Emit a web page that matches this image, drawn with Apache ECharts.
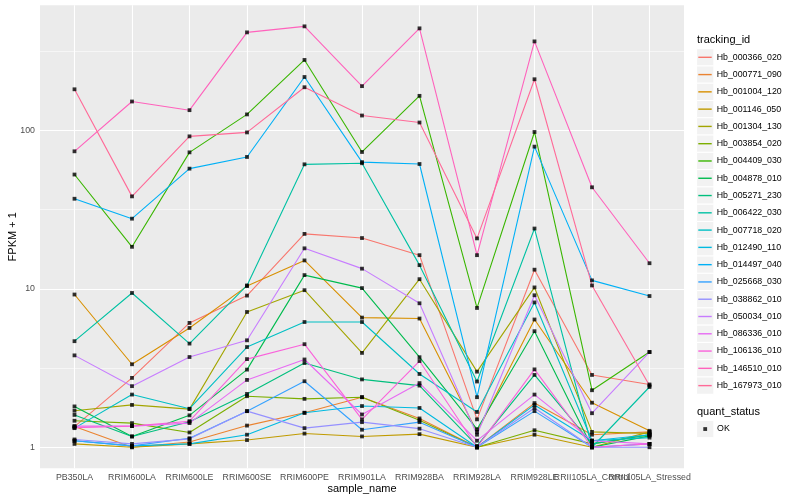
<!DOCTYPE html>
<html><head><meta charset="utf-8">
<script src="https://cdn.jsdelivr.net/npm/echarts@6/dist/echarts.min.js"></script>
<style>html,body{margin:0;padding:0;background:#fff}#c{width:800px;height:500px}</style>
</head><body><div id="c"></div>
<script>
const categories = ['PB350LA','RRIM600LA','RRIM600LE','RRIM600SE','RRIM600PE','RRIM901LA','RRIM928BA','RRIM928LA','RRIM928LE','RRII105LA_Control','RRII105LA_Stressed'];
const trackingIds = ['Hb_000366_020','Hb_000771_090','Hb_001004_120','Hb_001146_050','Hb_001304_130','Hb_003854_020','Hb_004409_030','Hb_004878_010','Hb_005271_230','Hb_006422_030','Hb_007718_020','Hb_012490_110','Hb_014497_040','Hb_025668_030','Hb_038862_010','Hb_050034_010','Hb_086336_010','Hb_106136_010','Hb_146510_010','Hb_167973_010'];

// FPKM + 1 values, one array per tracking_id, in category order
const Hb_000366_020 = [1.35, 2.74, 6.09, 9.06, 22.2, 20.9, 16.3, 1.5, 13.2, 2.86, 2.49];
const Hb_000771_090 = [1.35, 1.0, 1.08, 1.37, 1.65, 2.07, 1.52, 1.0, 1.9, 1.2, 1.25];
const Hb_001004_120 = [9.2, 3.34, 5.66, 10.4, 15.1, 6.58, 6.49, 1.25, 6.4, 1.91, 1.27];
const Hb_001146_050 = [1.05, 1.0, 1.05, 1.11, 1.22, 1.17, 1.21, 1.0, 1.2, 1.0, 1.25];
const Hb_001304_130 = [1.7, 1.85, 1.74, 7.14, 9.8, 3.94, 11.5, 3.0, 10.2, 1.25, 1.22];
const Hb_003854_020 = [1.47, 1.42, 1.24, 2.1, 2.02, 2.07, 1.48, 1.0, 1.28, 1.05, 1.2];
const Hb_004409_030 = [52.6, 18.4, 72.6, 126, 278, 73, 165, 7.57, 97.6, 2.29, 3.99];
const Hb_004878_010 = [1.81, 1.17, 1.59, 3.09, 12.2, 10.1, 3.7, 1.3, 5.4, 1.0, 1.18];
const Hb_005271_230 = [1.6, 1.17, 1.45, 2.17, 3.4, 2.68, 2.45, 1.02, 2.86, 1.05, 1.2];
const Hb_006422_030 = [4.67, 9.41, 4.51, 10.5, 61, 62, 14.1, 2.6, 24, 1.0, 2.4];
const Hb_007718_020 = [1.32, 2.15, 1.75, 4.29, 6.17, 6.17, 2.9, 1.67, 8.2, 1.1, 1.15];
const Hb_012490_110 = [1.1, 1.02, 1.05, 1.2, 1.65, 1.82, 1.77, 1.0, 1.85, 1.1, 1.2];
const Hb_014497_040 = [37, 27.7, 57.3, 67.9, 217, 63, 61.3, 2.07, 78.9, 11.3, 9.0];
const Hb_025668_030 = [1.1, 1.02, 1.14, 1.69, 2.61, 1.29, 1.44, 1.0, 1.69, 1.0, 1.05];
const Hb_038862_010 = [1.12, 1.05, 1.13, 1.69, 1.32, 1.44, 1.31, 1.0, 1.77, 1.0, 1.0];
const Hb_050034_010 = [3.8, 2.43, 3.71, 4.73, 18.0, 13.4, 8.1, 1.2, 9.1, 1.64, 3.99];
const Hb_086336_010 = [1.36, 1.36, 1.42, 2.66, 3.58, 1.61, 2.54, 1.1, 2.15, 1.1, 1.05];
const Hb_106136_010 = [1.33, 1.36, 1.46, 3.6, 4.47, 1.5, 3.5, 1.0, 3.1, 1.0, 1.05];
const Hb_146510_010 = [73.7, 152, 134, 415, 453, 190, 440, 16.3, 364, 43.7, 14.5];
const Hb_167973_010 = [181.5, 38.3, 91.6, 97, 187, 124, 112, 20.8, 210, 10.5, 2.45];

const seriesValues = [Hb_000366_020, Hb_000771_090, Hb_001004_120, Hb_001146_050, Hb_001304_130, Hb_003854_020, Hb_004409_030, Hb_004878_010, Hb_005271_230, Hb_006422_030, Hb_007718_020, Hb_012490_110, Hb_014497_040, Hb_025668_030, Hb_038862_010, Hb_050034_010, Hb_086336_010, Hb_106136_010, Hb_146510_010, Hb_167973_010];
const yTickLabels = [1, 10, 100];
const quantStatus = ['OK'];

const palette = ['#F8766D','#EA8331','#D89000','#C09B00','#A3A500','#7CAE00','#39B600','#00BB4E','#00BF7D','#00C1A3','#00BFC4','#00BAE0','#00B0F6','#35A2FF','#9590FF','#C77CFF','#E76BF3','#FA62DB','#FF62BC','#FF6A98'];

const FONT = '"Liberation Sans", Arial, Helvetica, sans-serif';
const logs = seriesValues.flat().map(v => Math.log10(v));
const lo = Math.min(...logs), hi = Math.max(...logs);
const pad = (hi - lo) * 0.05;
const yMin = lo - pad, yMax = hi + pad;

const majorY = yTickLabels.map(v => Math.log10(v));
const minorY = majorY.map(v => v + 0.5).filter(v => v < yMax);
const xIdx = categories.map((_, i) => i);
// labels of neighbouring categories overlap, so they are split over two overlaid axes
const xIdxA = xIdx.filter(i => i !== 9);
const xIdxB = [9];

const gridLines = [].concat(
  majorY.map(v => ({ yAxis: v, lineStyle: { width: 1.1 } })),
  minorY.map(v => ({ yAxis: v, lineStyle: { width: 0.55 } })),
  xIdx.map(i => ({ xAxis: i, lineStyle: { width: 1.1 } }))
);

const lineSeries = trackingIds.map((id, k) => ({
  name: id, type: 'line', z: 2, symbol: 'none', showSymbol: false, silent: true,
  data: seriesValues[k].map((v, i) => [i, Math.log10(v)]),
  lineStyle: { width: 1.1, color: palette[k] },
  itemStyle: { color: palette[k] },
  emphasis: { disabled: true }
}));

const pointData = [];
seriesValues.forEach(arr => arr.forEach((v, i) => pointData.push([i, Math.log10(v)])));

const KEY = 17.28, LEG_TOP = 48.66, OK_TOP = 420.4;
const keyRects = trackingIds.map((_, i) => ({
  type: 'rect', silent: true, z: 0,
  shape: { x: 696.6, y: LEG_TOP + i * KEY, width: KEY, height: KEY },
  style: { fill: '#F2F2F2', stroke: '#FFFFFF', lineWidth: 1 }
}));
keyRects.push({
  type: 'rect', silent: true, z: 0,
  shape: { x: 696.6, y: OK_TOP, width: KEY, height: KEY },
  style: { fill: '#F2F2F2', stroke: '#FFFFFF', lineWidth: 1 }
});

const xLabelStyle = { fontSize: 8.8, color: '#4D4D4D', margin: 4.5, fontFamily: FONT, hideOverlap: false,
                      formatter: v => categories[Math.round(v)] };

const chart = echarts.init(document.getElementById('c'), null, { renderer: 'canvas' });
chart.setOption({
  animation: false,
  backgroundColor: '#FFFFFF',
  textStyle: { fontFamily: FONT },
  grid: { left: 40, right: 116, top: 5.3, bottom: 31.7, show: true, backgroundColor: '#EBEBEB', borderWidth: 0,
          containLabel: false, outerBoundsMode: 'none' },
  title: [
    { text: 'tracking_id', left: 697, top: 34.5, padding: 0, textStyle: { fontSize: 11, fontWeight: 'normal', color: '#000', fontFamily: FONT } },
    { text: 'quant_status', left: 697, top: 406.3, padding: 0, textStyle: { fontSize: 11, fontWeight: 'normal', color: '#000', fontFamily: FONT } }
  ],
  graphic: keyRects,
  legend: [
    { orient: 'vertical', left: 698.3, top: LEG_TOP, padding: 0, itemGap: 0, itemWidth: 13.4, itemHeight: 1.4,
      icon: 'rect', selectedMode: false, data: trackingIds, itemStyle: { borderWidth: 0 },
      textStyle: { fontSize: 8.8, color: '#000', fontFamily: FONT, lineHeight: KEY } },
    { orient: 'vertical', left: 703.3, top: OK_TOP, padding: 0, itemGap: 0, itemWidth: 3.8, itemHeight: 3.8,
      icon: 'rect', selectedMode: false, data: quantStatus, itemStyle: { borderWidth: 0 },
      textStyle: { fontSize: 8.8, color: '#000', fontFamily: FONT, lineHeight: KEY, padding: [0, 0, 0, 5] } }
  ],
  xAxis: [
    {
      type: 'value', min: -0.6, max: 10.6, position: 'bottom', offset: 0,
      name: 'sample_name', nameLocation: 'middle', nameGap: 15, nameMoveOverlap: false,
      nameTextStyle: { fontSize: 11, color: '#000', fontFamily: FONT },
      axisLine: { show: false },
      splitLine: { show: false },
      axisTick: { show: true, customValues: xIdx, length: 2.75, lineStyle: { color: '#333333', width: 1 } },
      axisLabel: Object.assign({ customValues: xIdxA, showMinLabel: true, showMaxLabel: true }, xLabelStyle)
    },
    {
      type: 'value', min: -0.6, max: 10.6, position: 'bottom', offset: 0,
      axisLine: { show: false },
      splitLine: { show: false },
      axisTick: { show: false },
      axisLabel: Object.assign({ customValues: xIdxB, showMinLabel: true, showMaxLabel: true }, xLabelStyle)
    }
  ],
  yAxis: {
    type: 'value', min: yMin, max: yMax,
    name: 'FPKM + 1', nameLocation: 'middle', nameGap: 22, nameRotate: 90, nameMoveOverlap: false,
    nameTextStyle: { fontSize: 11, color: '#000', fontFamily: FONT },
    axisLine: { show: false },
    splitLine: { show: false },
    axisTick: { show: true, customValues: majorY, length: 2.75, lineStyle: { color: '#333333', width: 1 } },
    axisLabel: { customValues: majorY, formatter: v => String(Math.round(Math.pow(10, v))), fontSize: 8.8, color: '#4D4D4D', margin: 5,
                 fontFamily: FONT, showMinLabel: true, showMaxLabel: true }
  },
  series: [
    { name: '__grid', type: 'line', z: 1, data: [], silent: true,
      markLine: { z: 1, silent: true, symbol: ['none', 'none'], label: { show: false }, animation: false,
        emphasis: { disabled: true },
        lineStyle: { color: '#FFFFFF', type: 'solid', width: 1.1 }, data: gridLines } }
  ].concat(lineSeries, [
    { name: 'OK', type: 'scatter', z: 3, symbol: 'rect', symbolSize: 3.8, silent: true,
      itemStyle: { color: '#000000' }, data: pointData }
  ])
});
</script>
</body></html>
